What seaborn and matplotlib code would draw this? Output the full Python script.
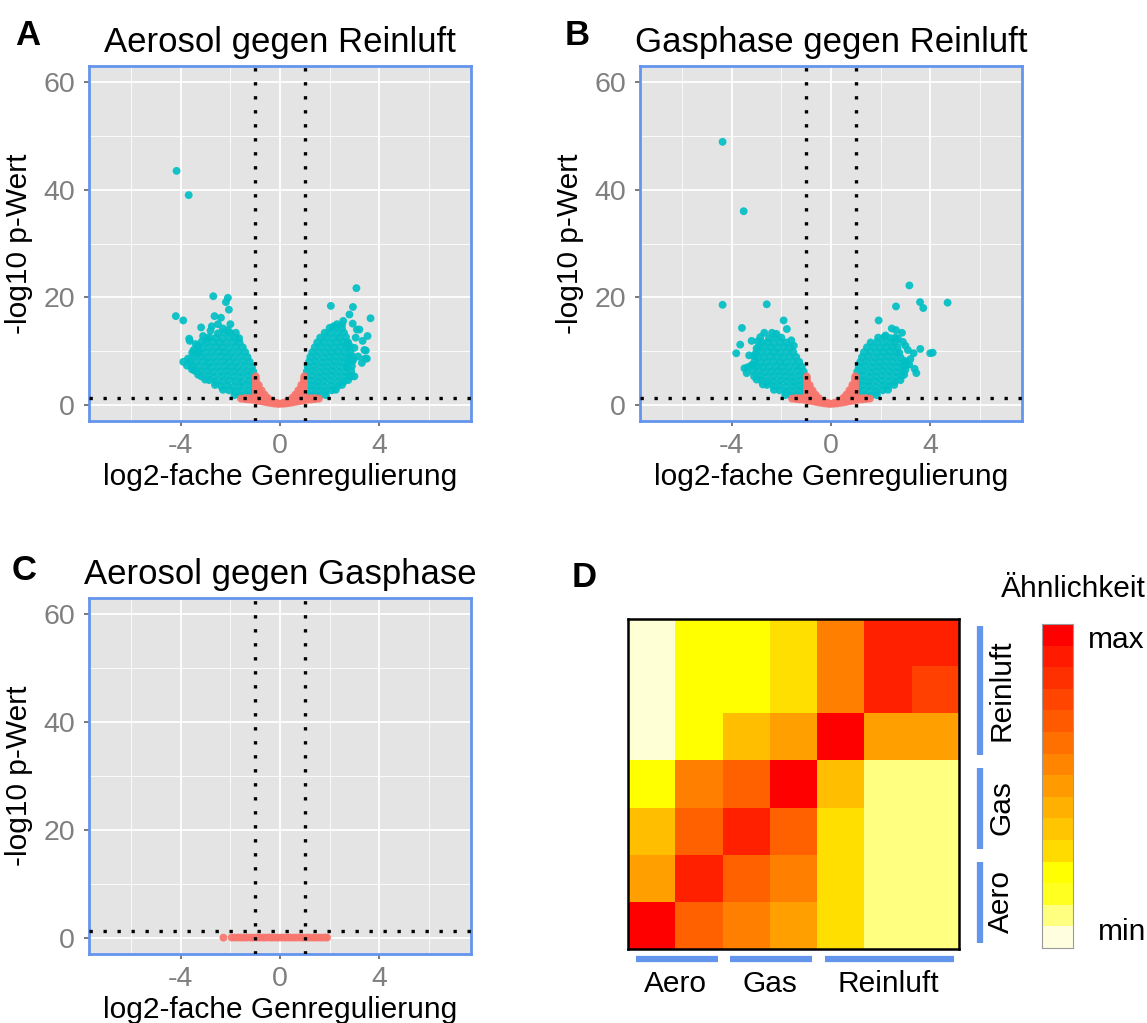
import numpy as np
import pandas as pd
import matplotlib
matplotlib.use("Agg")
import matplotlib.pyplot as plt
import matplotlib.transforms as mtransforms
from matplotlib.colors import ListedColormap
import seaborn as sns

sns.set_theme(style="darkgrid")
plt.rcParams['font.family'] = ['Liberation Sans', 'DejaVu Sans']
plt.rcParams['axes.unicode_minus'] = False
plt.rcParams['text.color'] = 'black'
plt.rcParams['axes.labelcolor'] = 'black'

# ---------------- DATA ----------------
panel_titles = ["Aerosol gegen Reinluft", "Gasphase gegen Reinluft", "Aerosol gegen Gasphase"]
panel_letters = ["A", "B", "C", "D"]
x_label = "log2-fache Genregulierung"
y_label = "-log10 p-Wert"
x_ticks = [-4, 0, 4]
y_ticks = [0, 20, 40, 60]
fc_cutoff = 1.0
p_cutoff_line = 1.3  # -log10(0.05)

# Panel A: significant genes (teal)
A_sig_left = [
    (-1.08, 1.7), (-1.33, 1.8), (-1.58, 1.7), (-1.84, 1.8),
    (-1.04, 2.6), (-1.28, 2.7), (-1.55, 2.6), (-1.80, 2.5), (-2.06, 2.7), (-2.30, 2.8),
    (-1.06, 3.5), (-1.32, 3.6), (-1.60, 3.5), (-1.86, 3.4), (-2.12, 3.6), (-2.38, 3.5), (-2.62, 3.7),
    (-1.03, 4.4), (-1.27, 4.5), (-1.54, 4.3), (-1.80, 4.4), (-2.07, 4.5), (-2.33, 4.4), (-2.60, 4.3), (-2.86, 4.6), (-3.02, 4.7),
    (-1.05, 5.3), (-1.31, 5.4), (-1.58, 5.2), (-1.85, 5.3), (-2.11, 5.4), (-2.37, 5.3), (-2.64, 5.2), (-2.90, 5.4), (-3.17, 5.3), (-3.30, 5.6),
    (-1.08, 6.2), (-1.34, 6.3), (-1.60, 6.1), (-1.87, 6.2), (-2.14, 6.3), (-2.40, 6.2), (-2.67, 6.1), (-2.94, 6.3), (-3.20, 6.2), (-3.45, 6.4), (-3.55, 6.6),
    (-1.13, 7.1), (-1.43, 7.2), (-1.70, 7.0), (-1.96, 7.1), (-2.23, 7.2), (-2.50, 7.1), (-2.77, 7.0), (-3.03, 7.2), (-3.30, 7.1), (-3.56, 7.3),
    (-1.22, 8.0), (-1.50, 8.1), (-1.77, 7.9), (-2.04, 8.0), (-2.30, 8.1), (-2.57, 8.0), (-2.84, 7.9), (-3.10, 8.1), (-3.37, 8.0), (-3.62, 8.2),
    (-1.31, 8.9), (-1.60, 9.0), (-1.87, 8.8), (-2.13, 8.9), (-2.40, 9.0), (-2.67, 8.9), (-2.93, 8.8), (-3.20, 9.0), (-3.46, 9.1),
    (-1.40, 9.8), (-1.68, 9.9), (-1.95, 9.7), (-2.22, 9.8), (-2.48, 9.9), (-2.75, 9.8), (-3.02, 9.7), (-3.30, 9.9), (-3.48, 10.2),
    (-1.50, 10.7), (-1.78, 10.8), (-2.05, 10.6), (-2.32, 10.7), (-2.58, 10.8), (-2.85, 10.7), (-3.12, 10.6), (-3.30, 10.9),
    (-1.63, 11.6), (-1.90, 11.7), (-2.17, 11.5), (-2.44, 11.6), (-2.70, 11.7), (-2.96, 11.6), (-3.15, 11.8),
    (-1.80, 12.5), (-2.05, 12.6), (-2.32, 12.4), (-2.58, 12.5), (-2.85, 12.6),
    (-2.00, 13.4), (-2.25, 13.5), (-2.50, 13.3),
    (-4.17, 43.5), (-3.68, 39.0), (-2.69, 20.2), (-2.10, 19.9), (-2.18, 19.1), (-2.06, 17.7),
    (-2.64, 16.5), (-2.38, 16.2), (-2.50, 15.0), (-2.10, 13.9), (-1.78, 13.4), (-4.20, 16.5),
    (-3.90, 15.7), (-3.18, 14.4), (-3.66, 12.3), (-3.64, 11.9), (-3.30, 9.6), (-3.90, 8.0),
    (-3.71, 8.6), (-3.40, 6.3), (-2.95, 12.3), (-3.40, 11.3), (-3.10, 12.8), (-2.80, 13.8),
    (-2.30, 14.2), (-3.54, 9.7), (-3.75, 7.3), (-2.00, 15.0), (-1.65, 12.4), (-2.75, 14.6),
]
A_sig_right = [
    (1.10, 1.7), (1.35, 1.8), (1.60, 1.7), (1.85, 1.8),
    (1.05, 2.6), (1.30, 2.7), (1.56, 2.6), (1.82, 2.5), (2.08, 2.7), (2.25, 2.8),
    (1.03, 3.5), (1.28, 3.6), (1.54, 3.5), (1.80, 3.4), (2.06, 3.6), (2.32, 3.5), (2.50, 3.7),
    (1.02, 4.4), (1.27, 4.5), (1.53, 4.3), (1.79, 4.4), (2.05, 4.5), (2.31, 4.4), (2.57, 4.3), (2.75, 4.6),
    (1.04, 5.3), (1.30, 5.4), (1.56, 5.2), (1.82, 5.3), (2.08, 5.4), (2.34, 5.3), (2.60, 5.2), (2.83, 5.4),
    (1.08, 6.2), (1.34, 6.3), (1.60, 6.1), (1.86, 6.2), (2.12, 6.3), (2.38, 6.2), (2.64, 6.1), (2.87, 6.3),
    (1.12, 7.1), (1.38, 7.2), (1.64, 7.0), (1.90, 7.1), (2.16, 7.2), (2.42, 7.1), (2.68, 7.0), (2.90, 7.2),
    (1.17, 8.0), (1.43, 8.1), (1.69, 7.9), (1.95, 8.0), (2.21, 8.1), (2.47, 8.0), (2.73, 7.9), (2.92, 8.1),
    (1.22, 8.9), (1.48, 9.0), (1.74, 8.8), (2.00, 8.9), (2.26, 9.0), (2.52, 8.9), (2.78, 8.8), (2.90, 9.1),
    (1.30, 9.8), (1.56, 9.9), (1.82, 9.7), (2.08, 9.8), (2.34, 9.9), (2.60, 9.8), (2.83, 9.7),
    (1.40, 10.7), (1.66, 10.8), (1.92, 10.6), (2.18, 10.7), (2.44, 10.8), (2.70, 10.7), (2.82, 10.9),
    (1.50, 11.6), (1.76, 11.7), (2.02, 11.5), (2.28, 11.6), (2.54, 11.7), (2.75, 11.6),
    (1.62, 12.5), (1.88, 12.6), (2.14, 12.4), (2.40, 12.5), (2.66, 12.6),
    (1.80, 13.4), (2.06, 13.5), (2.32, 13.3), (2.58, 13.4),
    (2.00, 14.3), (2.25, 14.4), (2.50, 14.2),
    (3.08, 21.7), (2.94, 18.2), (2.05, 18.4), (2.80, 16.8), (2.93, 15.1), (3.65, 16.1),
    (3.10, 14.0), (3.20, 14.0), (3.53, 12.8), (3.33, 11.9), (3.46, 10.1), (3.50, 8.6),
    (2.90, 5.3), (3.00, 5.3), (2.80, 8.4), (2.95, 8.4), (2.70, 7.1), (3.00, 10.6),
    (2.70, 11.3), (2.50, 14.9), (2.30, 15.0), (3.15, 9.0), (3.30, 7.8), (2.55, 15.6),
    (2.15, 14.6), (3.05, 12.5), (3.40, 10.2), (3.43, 8.6),
]
# Panel A: not significant genes (salmon)
A_ns = [
    (-0.02, 0.18), (-0.12, 0.20), (-0.12, 0.35), (-0.25, 0.25), (-0.25, 0.55),
    (-0.38, 0.35), (-0.38, 0.75), (-0.50, 0.45), (-0.50, 0.90), (-0.50, 1.30),
    (-0.62, 0.55), (-0.62, 1.00), (-0.62, 1.45), (-0.62, 1.90),
    (-0.74, 0.65), (-0.74, 1.10), (-0.74, 1.60), (-0.74, 2.10), (-0.74, 2.70),
    (-0.86, 0.75), (-0.86, 1.20), (-0.86, 1.70), (-0.86, 2.20), (-0.86, 2.70), (-0.86, 3.20), (-0.86, 3.70),
    (-0.97, 0.85), (-0.97, 1.30), (-0.97, 1.80), (-0.97, 2.30), (-0.97, 2.80), (-0.97, 3.30),
    (-0.97, 3.80), (-0.97, 4.30), (-0.97, 4.80), (-0.98, 5.30),
    (-1.12, 0.95), (-1.12, 1.22), (-1.27, 1.00), (-1.27, 1.24), (-1.42, 1.08), (-1.42, 1.25), (-1.57, 1.15),
    (0.12, 0.20), (0.12, 0.36), (0.25, 0.26), (0.25, 0.55), (0.38, 0.35), (0.38, 0.76),
    (0.50, 0.45), (0.50, 0.92), (0.50, 1.32), (0.62, 0.55), (0.62, 1.00), (0.62, 1.47), (0.62, 1.92),
    (0.74, 0.65), (0.74, 1.12), (0.74, 1.60), (0.74, 2.12), (0.74, 2.72),
    (0.86, 0.75), (0.86, 1.22), (0.86, 1.70), (0.86, 2.22), (0.86, 2.72), (0.86, 3.22), (0.86, 3.72),
    (0.97, 0.85), (0.97, 1.30), (0.97, 1.82), (0.97, 2.32), (0.97, 2.82), (0.97, 3.32),
    (0.97, 3.82), (0.97, 4.32), (0.97, 4.82), (0.98, 5.30),
    (1.12, 0.95), (1.12, 1.22), (1.27, 1.00), (1.27, 1.24), (1.42, 1.08), (1.42, 1.25), (1.57, 1.15),
]

# Panel B
B_sig_left = [
    (-1.10, 1.7), (-1.35, 1.8), (-1.60, 1.7), (-1.85, 1.8),
    (-1.05, 2.6), (-1.30, 2.7), (-1.56, 2.6), (-1.82, 2.5), (-2.08, 2.7), (-2.30, 2.8),
    (-1.03, 3.5), (-1.28, 3.6), (-1.54, 3.5), (-1.80, 3.4), (-2.06, 3.6), (-2.32, 3.5), (-2.58, 3.7), (-2.75, 3.8),
    (-1.02, 4.4), (-1.27, 4.5), (-1.53, 4.3), (-1.79, 4.4), (-2.05, 4.5), (-2.31, 4.4), (-2.57, 4.3), (-2.83, 4.6), (-3.00, 4.7),
    (-1.04, 5.3), (-1.30, 5.4), (-1.56, 5.2), (-1.82, 5.3), (-2.08, 5.4), (-2.34, 5.3), (-2.60, 5.2), (-2.86, 5.4), (-3.10, 5.3),
    (-1.10, 6.2), (-1.36, 6.3), (-1.62, 6.1), (-1.88, 6.2), (-2.14, 6.3), (-2.40, 6.2), (-2.66, 6.1), (-2.92, 6.3), (-3.15, 6.2),
    (-1.18, 7.1), (-1.44, 7.2), (-1.70, 7.0), (-1.96, 7.1), (-2.22, 7.2), (-2.48, 7.1), (-2.74, 7.0), (-3.00, 7.2), (-3.12, 7.4),
    (-1.28, 8.0), (-1.54, 8.1), (-1.80, 7.9), (-2.06, 8.0), (-2.32, 8.1), (-2.58, 8.0), (-2.84, 7.9), (-3.08, 8.1),
    (-1.40, 8.9), (-1.66, 9.0), (-1.92, 8.8), (-2.18, 8.9), (-2.44, 9.0), (-2.70, 8.9), (-2.96, 8.8), (-3.10, 9.1),
    (-1.52, 9.8), (-1.78, 9.9), (-2.04, 9.7), (-2.30, 9.8), (-2.56, 9.9), (-2.82, 9.8), (-3.02, 9.7),
    (-1.65, 10.7), (-1.90, 10.8), (-2.16, 10.6), (-2.42, 10.7), (-2.68, 10.8), (-2.92, 10.7),
    (-1.80, 11.6), (-2.05, 11.7), (-2.30, 11.5), (-2.56, 11.6), (-2.80, 11.7),
    (-2.00, 12.5), (-2.25, 12.6), (-2.50, 12.4),
    (-4.37, 48.9), (-3.52, 36.0), (-4.37, 18.6), (-2.59, 18.7), (-3.59, 14.3), (-3.66, 11.2),
    (-3.82, 9.6), (-3.20, 11.9), (-2.69, 13.4), (-2.38, 13.4), (-1.91, 15.7), (-1.78, 14.1),
    (-3.49, 6.8), (-3.40, 5.9), (-3.20, 7.4), (-3.00, 10.5), (-2.95, 11.8), (-1.60, 12.0),
    (-1.50, 11.0), (-3.35, 7.0), (-2.20, 13.2), (-2.85, 12.6), (-3.30, 9.2),
]
B_sig_right = [
    (1.10, 1.7), (1.35, 1.8), (1.60, 1.7), (1.85, 1.8),
    (1.05, 2.6), (1.30, 2.7), (1.56, 2.6), (1.82, 2.5), (2.08, 2.7), (2.30, 2.8),
    (1.03, 3.5), (1.28, 3.6), (1.54, 3.5), (1.80, 3.4), (2.06, 3.6), (2.32, 3.5), (2.55, 3.7),
    (1.02, 4.4), (1.27, 4.5), (1.53, 4.3), (1.79, 4.4), (2.05, 4.5), (2.31, 4.4), (2.57, 4.3), (2.80, 4.6),
    (1.03, 5.3), (1.29, 5.4), (1.55, 5.2), (1.81, 5.3), (2.07, 5.4), (2.33, 5.3), (2.59, 5.2), (2.85, 5.4), (2.95, 5.6),
    (1.06, 6.2), (1.32, 6.3), (1.58, 6.1), (1.84, 6.2), (2.10, 6.3), (2.36, 6.2), (2.62, 6.1), (2.88, 6.3), (3.00, 6.5),
    (1.12, 7.1), (1.38, 7.2), (1.64, 7.0), (1.90, 7.1), (2.16, 7.2), (2.42, 7.1), (2.68, 7.0), (2.94, 7.2), (3.05, 7.4),
    (1.18, 8.0), (1.44, 8.1), (1.70, 7.9), (1.96, 8.0), (2.22, 8.1), (2.48, 8.0), (2.74, 7.9), (3.00, 8.1),
    (1.25, 8.9), (1.51, 9.0), (1.77, 8.8), (2.03, 8.9), (2.29, 9.0), (2.55, 8.9), (2.81, 8.8),
    (1.33, 9.8), (1.59, 9.9), (1.85, 9.7), (2.11, 9.8), (2.37, 9.9), (2.63, 9.8), (2.75, 9.7),
    (1.45, 10.7), (1.71, 10.8), (1.97, 10.6), (2.23, 10.7), (2.49, 10.8), (2.68, 10.7),
    (1.60, 11.6), (1.86, 11.7), (2.12, 11.5), (2.38, 11.6), (2.60, 11.7),
    (1.90, 12.5), (2.15, 12.6), (2.40, 12.4), (2.60, 12.5),
    (3.16, 22.2), (3.59, 19.1), (3.72, 18.0), (4.70, 19.0), (2.62, 18.3), (1.92, 15.7),
    (2.45, 14.2), (2.86, 13.4), (2.62, 13.9), (4.00, 9.6), (4.10, 9.7), (3.60, 10.4),
    (3.33, 9.6), (3.10, 10.2), (2.90, 11.7), (3.37, 6.7), (3.44, 5.9), (2.96, 8.1),
    (2.20, 12.9), (2.70, 12.3), (3.20, 8.5), (3.00, 11.0), (3.15, 7.5),
]
B_ns = [
    (-0.02, 0.17), (-0.12, 0.21), (-0.12, 0.36), (-0.25, 0.26), (-0.25, 0.54),
    (-0.38, 0.36), (-0.38, 0.74), (-0.50, 0.46), (-0.50, 0.91), (-0.50, 1.29),
    (-0.62, 0.56), (-0.62, 1.01), (-0.62, 1.46), (-0.62, 1.88),
    (-0.74, 0.66), (-0.74, 1.11), (-0.74, 1.61), (-0.74, 2.11), (-0.74, 2.68),
    (-0.86, 0.76), (-0.86, 1.21), (-0.86, 1.71), (-0.86, 2.21), (-0.86, 2.71), (-0.86, 3.21), (-0.86, 3.68),
    (-0.97, 0.86), (-0.97, 1.31), (-0.97, 1.81), (-0.97, 2.31), (-0.97, 2.81), (-0.97, 3.31),
    (-0.97, 3.81), (-0.97, 4.31), (-0.97, 4.81), (-0.98, 5.28),
    (-1.12, 0.96), (-1.12, 1.23), (-1.27, 1.01), (-1.27, 1.24), (-1.42, 1.09), (-1.42, 1.25), (-1.57, 1.16),
    (0.12, 0.21), (0.12, 0.35), (0.25, 0.27), (0.25, 0.56), (0.38, 0.36), (0.38, 0.75),
    (0.50, 0.46), (0.50, 0.93), (0.50, 1.31), (0.62, 0.56), (0.62, 1.01), (0.62, 1.48), (0.62, 1.91),
    (0.74, 0.66), (0.74, 1.13), (0.74, 1.61), (0.74, 2.13), (0.74, 2.71),
    (0.86, 0.76), (0.86, 1.23), (0.86, 1.71), (0.86, 2.23), (0.86, 2.73), (0.86, 3.23), (0.86, 3.71),
    (0.97, 0.86), (0.97, 1.31), (0.97, 1.83), (0.97, 2.33), (0.97, 2.83), (0.97, 3.33),
    (0.97, 3.83), (0.97, 4.33), (0.97, 4.83), (0.98, 5.31),
    (1.12, 0.96), (1.12, 1.23), (1.27, 1.01), (1.27, 1.24), (1.42, 1.09), (1.42, 1.25), (1.57, 1.16),
]

# Panel C: no significant genes
C_sig = []
C_ns = [
    (-2.28, 0.03), (-1.95, 0.05), (-1.82, 0.04), (-1.70, 0.06), (-1.58, 0.05), (-1.45, 0.04),
    (-1.33, 0.06), (-1.20, 0.05), (-1.08, 0.04), (-0.95, 0.06), (-0.83, 0.05), (-0.70, 0.04),
    (-0.58, 0.05), (-0.45, 0.06), (-0.33, 0.04), (-0.20, 0.05), (-0.08, 0.03), (0.05, 0.05),
    (0.18, 0.04), (0.30, 0.06), (0.42, 0.05), (0.55, 0.04), (0.67, 0.05), (0.80, 0.06),
    (0.92, 0.04), (1.05, 0.05), (1.17, 0.06), (1.30, 0.04), (1.42, 0.05), (1.55, 0.05),
    (1.67, 0.04), (1.80, 0.06), (1.90, 0.05),
]

# Panel D: similarity heatmap (0 = min ... 11 = max), rows top -> bottom
D_groups_cols = ["Aero", "Gas", "Reinluft"]
D_group_sizes = [2, 2, 3]
D_similarity = [
    [0, 3, 3, 4, 7, 10, 10],
    [0, 3, 3, 4, 7, 10, 9],
    [0, 3, 5, 6, 11, 6, 6],
    [3, 7, 8, 11, 5, 1, 1],
    [5, 8, 10, 8, 4, 1, 1],
    [6, 10, 8, 7, 4, 1, 1],
    [11, 8, 7, 6, 4, 1, 1],
]
heat_palette = ["#FFFFD5", "#FFFF80", "#FFFF2A", "#FFFF00", "#FFDF00", "#FFBF00",
                "#FF9F00", "#FF8000", "#FF6000", "#FF4000", "#FF2000", "#FF0000"]
key_palette = ["#FF0000", "#FF1A00", "#FF3000", "#FF4500", "#FF5A00", "#FF7000",
               "#FF8500", "#FF9A00", "#FFB000", "#FFC500", "#FFDB00", "#FFFF00",
               "#FFFF20", "#FFFF80", "#FFFFDF"]
key_levels = list(range(len(key_palette)))
key_title = "Ähnlichkeit"
key_labels = ["max", "min"]

# ---------------- STYLE ----------------
W, H = 1147, 1023
TEAL = "#00BFC4"
SALMON = "#F8766D"
BLUE = "#6495ED"
PANEL_BG = "#E4E4E4"
TICK_GREY = "#7F7F7F"

fig = plt.figure(figsize=(W / 100, H / 100), dpi=100)
fig.patch.set_facecolor("white")


def fx(p):
    return p / W


def fy(p):
    return 1 - p / H


def volcano(ax, sig, ns, title):
    df = pd.DataFrame(sig + ns, columns=["log2fc", "nlp"])
    df["group"] = ["sig"] * len(sig) + ["ns"] * len(ns)
    sns.scatterplot(data=df, x="log2fc", y="nlp", hue="group",
                    palette={"sig": TEAL, "ns": SALMON}, s=32, linewidth=0,
                    alpha=0.92, legend=False, ax=ax, zorder=3)
    ax.set_facecolor(PANEL_BG)
    ax.set_xlim(-7.7, 7.7)
    ax.set_ylim(-3.0, 63.0)
    ax.set_xticks(x_ticks)
    ax.set_xticklabels([str(t) for t in x_ticks])
    ax.set_yticks(y_ticks)
    ax.set_yticklabels([str(t) for t in y_ticks])
    ax.set_xticks([-6, -2, 2, 6], minor=True)
    ax.set_yticks([10, 30, 50], minor=True)
    ax.grid(which="major", color="white", lw=1.3)
    ax.grid(which="minor", color="white", lw=0.6)
    ax.set_axisbelow(True)
    ax.tick_params(which="major", bottom=True, left=True, length=3.5, width=1.1,
                   color="#555555", labelsize=20.5, labelcolor=TICK_GREY)
    ax.tick_params(axis="x", which="major", pad=5)
    ax.tick_params(axis="y", which="major", pad=6.5)
    ax.tick_params(which="minor", length=0)
    for s in ax.spines.values():
        s.set_visible(True)
        s.set_color(BLUE)
        s.set_linewidth(2.0)
    dots = (0, (1, 3.2))
    for xv in (-fc_cutoff, fc_cutoff):
        ax.axvline(xv, color="black", ls=dots, lw=2.4, zorder=5)
    ax.axhline(p_cutoff_line, color="black", ls=dots, lw=2.4, zorder=5)
    ax.set_xlabel(x_label, fontsize=21.5, color="black")
    ax.set_ylabel(y_label, fontsize=21.5, color="black")
    ax.set_title(title, fontsize=25, color="black", pad=10)


axA = fig.add_axes([fx(89), fy(421), 382 / W, 355 / H])
axB = fig.add_axes([fx(640), fy(421), 382 / W, 355 / H])
axC = fig.add_axes([fx(89), fy(954), 382 / W, 356 / H])

volcano(axA, A_sig_left + A_sig_right, A_ns, panel_titles[0])
volcano(axB, B_sig_left + B_sig_right, B_ns, panel_titles[1])
volcano(axC, C_sig, C_ns, panel_titles[2])

for ax, h in ((axA, 355), (axB, 355), (axC, 356)):
    ax.yaxis.set_label_coords(-56 / 382, 0.5)
    ax.xaxis.set_label_coords(0.5, -42 / h)

# Panel letters
for letter, (px_, py_) in zip(panel_letters, [(15, 45), (565, 45), (12, 580), (572, 587)]):
    fig.text(fx(px_), fy(py_), letter, fontsize=25, fontweight="bold", va="baseline",
             color="black")

# ---------------- HEATMAP D ----------------
axD = fig.add_axes([fx(628), fy(949), 331 / W, 330 / H])
M = np.array(D_similarity)
sns.heatmap(M, ax=axD, cmap=ListedColormap(heat_palette), vmin=-0.5, vmax=11.5,
            cbar=False, xticklabels=False, yticklabels=False, linewidths=0)
for s in axD.spines.values():
    s.set_visible(True)
    s.set_color("black")
    s.set_linewidth(1.8)
axD.tick_params(length=0)

bt = mtransforms.blended_transform_factory(axD.transData, axD.transAxes)
rt = mtransforms.blended_transform_factory(axD.transAxes, axD.transData)
starts = np.cumsum([0] + D_group_sizes[:-1])
n = len(D_similarity)
for name, st, sz in zip(D_groups_cols, starts, D_group_sizes):
    axD.plot([st + 0.16, st + sz - 0.1], [-0.031, -0.031], transform=bt, color=BLUE,
             lw=4.5, solid_capstyle="butt", clip_on=False)
    axD.text(st + sz / 2, -0.105, name, transform=bt, ha="center", va="center",
             fontsize=21.5, color="black")
    r1 = n - st
    r0 = n - st - sz
    axD.plot([1.062, 1.062], [r0 + 0.15, r1 - 0.12], transform=rt, color=BLUE,
             lw=4.5, solid_capstyle="butt", clip_on=False)
    axD.text(1.128, (r0 + r1) / 2, name, transform=rt, ha="center", va="center",
             rotation=90, fontsize=21.5, color="black")

# Colour key
axK = fig.add_axes([fx(1042), fy(948), 31 / W, 324 / H])
sns.heatmap(np.array(key_levels).reshape(-1, 1), ax=axK, cmap=ListedColormap(key_palette),
            vmin=-0.5, vmax=len(key_palette) - 0.5, cbar=False,
            xticklabels=False, yticklabels=False)
for s in axK.spines.values():
    s.set_visible(True)
    s.set_color("#9A9A9A")
    s.set_linewidth(0.8)
axK.tick_params(length=0)

fig.text(fx(1001), fy(597), key_title, fontsize=21.5, va="baseline", color="black")
fig.text(fx(1088), fy(640), key_labels[0], fontsize=21.5, va="center", color="black")
fig.text(fx(1098), fy(932), key_labels[1], fontsize=21.5, va="center", color="black")

fig.savefig("out.png", dpi=100)
